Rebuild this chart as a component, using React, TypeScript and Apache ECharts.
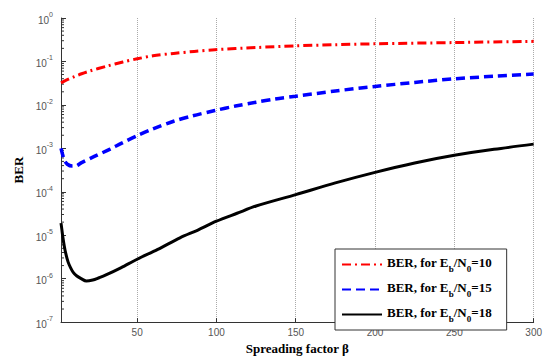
import React, { useEffect, useRef } from "react";
import * as echarts from "echarts";

const betaRed = [2, 5, 10, 15, 20, 31, 41, 50, 60, 73, 86, 99, 125, 150, 175, 200, 250, 300];
const berRed = [0.032, 0.0365, 0.044, 0.052, 0.06, 0.078, 0.097, 0.115, 0.135, 0.153, 0.17, 0.186, 0.209, 0.229, 0.243, 0.255, 0.272, 0.29];

const betaBlue = [2, 3, 4, 6, 9, 11, 15, 23, 33, 40, 50, 60, 73, 85, 99, 112, 125, 137, 150, 175, 200, 225, 250, 275, 300];
const berBlue = [1.0e-3, 7.2e-4, 5.4e-4, 4.3e-4, 3.9e-4, 3.9e-4, 4.7e-4, 6.5e-4, 9.6e-4, 1.3e-3, 1.95e-3, 2.8e-3, 4.2e-3, 5.6e-3, 7.4e-3, 9.4e-3, 0.0115, 0.0137, 0.0158, 0.0209, 0.0266, 0.0329, 0.0398, 0.0457, 0.0513];

const betaBlack = [2, 2.5, 3, 4, 5, 6.5, 8, 9.7, 12, 14.7, 18, 22, 26, 30, 40, 50, 63, 77, 88, 100, 113, 125, 150, 175, 200, 225, 250, 275, 300];
const berBlack = [1.9e-5, 1.4e-5, 1.0e-5, 5.8e-6, 3.8e-6, 2.4e-6, 1.8e-6, 1.4e-6, 1.15e-6, 1.0e-6, 8.8e-7, 9.3e-7, 1.05e-6, 1.2e-6, 1.8e-6, 2.8e-6, 4.7e-6, 8.7e-6, 1.3e-5, 2.1e-5, 3.2e-5, 4.7e-5, 8.6e-5, 1.6e-4, 2.8e-4, 4.6e-4, 6.9e-4, 9.5e-4, 1.25e-3];

const xTicks = [50, 100, 150, 200, 250, 300];
const seriesNames = ["Eb/N0=10", "Eb/N0=15", "Eb/N0=18"];
const legendValues = ["10", "15", "18"];

const xMin = 2;
const xMax = 300;
const yMin = 1e-7;
const yMax = 1;

const minorTickValues: number[] = [];
for (let e = -7; e < 0; e++) {
  for (let k = 2; k <= 9; k++) minorTickValues.push(k * Math.pow(10, e));
}

const zip = (xs: number[], ys: number[]) => xs.map((x, i) => [x, ys[i]]);

export default function App() {
  const ref = useRef<HTMLDivElement>(null);
  useEffect(() => {
    if (!ref.current) return;
    const chart = echarts.init(ref.current, undefined, { renderer: "svg" });
    const serif = "Liberation Serif";
    const sans = "Liberation Sans";
    chart.setOption({
      animation: false,
      backgroundColor: "#fff",
      grid: { left: 61, right: 11, top: 18, bottom: 32, containLabel: false },
      xAxis: {
        type: "value",
        min: xMin,
        max: xMax,
        name: "Spreading factor β",
        nameLocation: "middle",
        nameGap: 18,
        nameTextStyle: { fontFamily: serif, fontWeight: "bold", fontSize: 13, color: "#000" },
        axisLine: { lineStyle: { color: "#333", width: 1 } },
        axisTick: { inside: true, length: 4, customValues: xTicks, lineStyle: { color: "#333" } },
        axisLabel: { customValues: xTicks, margin: 5, fontFamily: sans, fontSize: 10, color: "#555" },
        splitLine: { show: true, lineStyle: { type: "dotted", color: "#aaa", width: 1 } },
      },
      yAxis: {
        type: "log",
        logBase: 10,
        min: yMin,
        max: yMax,
        name: "BER",
        nameLocation: "middle",
        nameGap: 34,
        nameTextStyle: { fontFamily: serif, fontWeight: "bold", fontSize: 13, color: "#000" },
        axisLine: { show: true, lineStyle: { color: "#333", width: 1 } },
        axisTick: { show: true, inside: true, length: 5, lineStyle: { color: "#333" } },
        splitLine: { show: false },
        axisLabel: {
          margin: 8,
          color: "#555",
          formatter: (v: number) => {
            const e = Math.round(Math.log10(v));
            return `{b|10}{e|${e}}`;
          },
          rich: {
            b: { fontFamily: sans, fontSize: 10, color: "#555", verticalAlign: "bottom", lineHeight: 14 },
            e: { fontFamily: sans, fontSize: 7, color: "#555", verticalAlign: "top", lineHeight: 14 },
          },
        },
      },
      legend: {
        orient: "vertical",
        left: 335,
        top: 249,
        padding: [7, 15, 7, 6],
        itemGap: 8,
        itemWidth: 40,
        itemHeight: 14,
        backgroundColor: "#fff",
        borderColor: "#333",
        borderWidth: 1,
        borderRadius: 0,
        itemStyle: { opacity: 0 },
        data: seriesNames,
        formatter: (name: string) => {
          const i = seriesNames.indexOf(name);
          return `{a|BER, for E}{s|b}{a|/N}{s|0}{a|=${legendValues[i]}}`;
        },
        textStyle: {
          rich: {
            a: { fontFamily: serif, fontWeight: "bold", fontSize: 13, color: "#000", lineHeight: 17, verticalAlign: "top" },
            s: { fontFamily: serif, fontWeight: "bold", fontSize: 9, color: "#000", lineHeight: 17, verticalAlign: "bottom" },
          },
        },
      },
      series: [
        {
          name: seriesNames[0],
          type: "line",
          data: zip(betaRed, berRed),
          showSymbol: false,
          symbol: "none",
          smooth: 0.3,
          lineStyle: { color: "#ff0000", width: 3, type: [9, 4, 2, 4] },
          itemStyle: { color: "#ff0000" },
        },
        {
          name: seriesNames[1],
          type: "line",
          data: zip(betaBlue, berBlue),
          showSymbol: false,
          symbol: "none",
          smooth: 0.3,
          lineStyle: { color: "#0000ff", width: 3.5, type: [9, 5] },
          itemStyle: { color: "#0000ff" },
        },
        {
          name: seriesNames[2],
          type: "line",
          data: zip(betaBlack, berBlack),
          showSymbol: false,
          symbol: "none",
          smooth: 0.3,
          lineStyle: { color: "#000", width: 3, type: "solid" },
          itemStyle: { color: "#000" },
        },
        {
          name: "minor",
          type: "custom",
          silent: true,
          data: minorTickValues.map((v) => [xMin, v]),
          encode: { x: 0, y: 1 },
          renderItem: (_p: any, api: any) => {
            const pt = api.coord([api.value(0), api.value(1)]);
            return {
              type: "line",
              shape: { x1: pt[0], y1: pt[1], x2: pt[0] + 3, y2: pt[1] },
              style: { stroke: "#333", lineWidth: 1 },
            };
          },
        },
      ],
    });
    return () => chart.dispose();
  }, []);
  return <div ref={ref} style={{ width: 545, height: 360, position: "absolute", left: 0, top: 0 }} />;
}
